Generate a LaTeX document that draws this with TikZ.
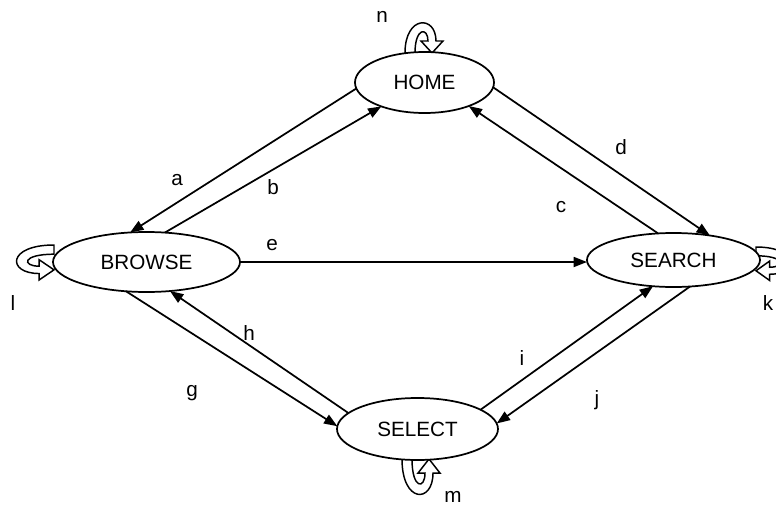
\documentclass[tikz,border=0pt]{standalone}
\usepackage{fontspec}
\setmainfont{Liberation Sans}
\usetikzlibrary{shapes.geometric,arrows.meta}
\newcommand\loopribbon{\filldraw[fill=white, line width=1.1pt] (0,0) .. controls (0,38) and (31,38) .. (31,12) -- (38,12) -- (27,0) -- (16,12) -- (23,12) .. controls (23,26) and (10,26) .. (10,0) -- cycle;}
\tikzset{
  state/.style={ellipse, draw, line width=1.3pt, fill=white, inner sep=0pt, outer sep=0pt},
  arr/.style={line width=1.3pt, -{Triangle[length=10pt,width=7.5pt]}},
  lbl/.style={inner sep=0pt}
}
\begin{document}
\begin{tikzpicture}[x=0.75pt,y=-0.75pt,font=\fontsize{15.5}{18}\selectfont]
\useasboundingbox (0,0) rectangle (776,507);
\clip (0,0) rectangle (776,507);
% loops
\begin{scope}[shift={(405,53)}, x={(0.75pt,0pt)}, y={(0pt,0.75pt)}]
  \loopribbon
\end{scope}
\begin{scope}[shift={(402,459)}, x={(0.75pt,0pt)}, y={(0pt,-0.88pt)}]
  \loopribbon
\end{scope}
\begin{scope}[shift={(54,245)}, x={(0pt,-0.69pt)}, y={(-0.93pt,0pt)}]
  \loopribbon
\end{scope}
\begin{scope}[shift={(756,247)}, x={(0pt,-0.66pt)}, y={(0.85pt,0pt)}]
  \loopribbon
\end{scope}
% states
\node[state, minimum width=104.25pt, minimum height=45.75pt] (home) at (424.5,82.5) {HOME};
\node[state, minimum width=140.25pt, minimum height=45pt] (browse) at (146.5,262) {BROWSE};
\node[state, minimum width=129.75pt, minimum height=40.5pt] (search) at (673.5,260) {SEARCH};
\node[state, minimum width=120.75pt, minimum height=46.5pt] (select) at (417.5,429) {SELECT};
% connectors
\draw[arr] (home.185) -- (browse.119);
\draw[arr] (browse.58) -- (home.209);
\draw[arr] (search.120) -- (home.332);
\draw[arr] (home.356) -- (search.34);
\draw[arr] (browse.east) -- (browse.east -| search.west);
\draw[arr] (browse.235) -- (select.178);
\draw[arr] (select.167) -- (browse.309);
\draw[arr] (select.17) -- (search.232);
\draw[arr] (search.302) -- (select.4);
% labels
\node[lbl] (la) at (177,180) {a};
\node[lbl] (lb) at (273,187) {b};
\node[lbl] (lc) at (561,207) {c};
\node[lbl] (ld) at (621,147) {d};
\node[lbl] (le) at (272,245) {e};
\node[lbl] (lg) at (192,393) {g};
\node[lbl] (lh) at (249,333) {h};
\node[lbl] (li) at (522,358) {i};
\node[lbl] (lj) at (597,400) {j};
\node[lbl] (lk) at (768,303) {k};
\node[lbl] (ll) at (13,303) {l};
\node[lbl] (lm) at (453,497) {m};
\node[lbl] (ln) at (382,17) {n};
\end{tikzpicture}
\end{document}
